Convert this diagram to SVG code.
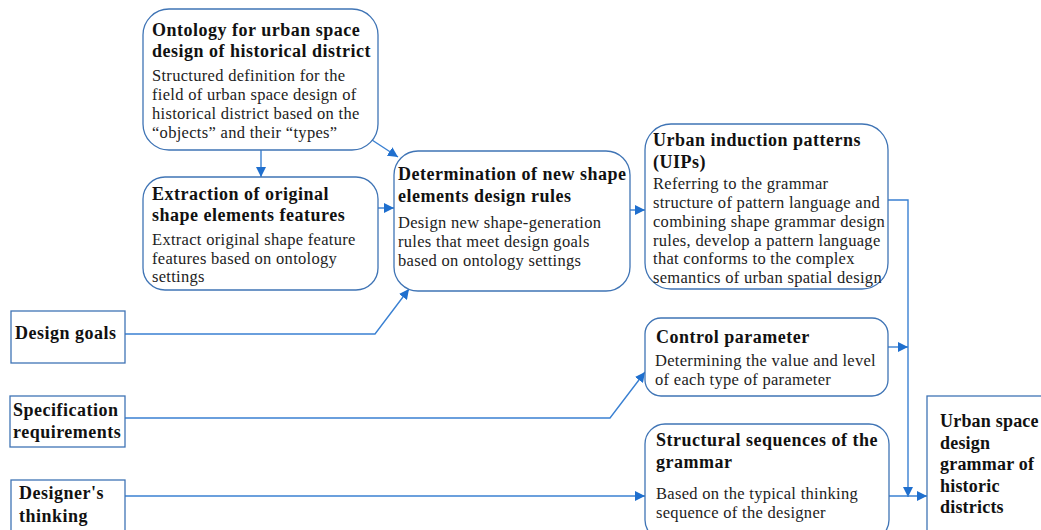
<svg xmlns="http://www.w3.org/2000/svg" width="1041" height="530" viewBox="0 0 1041 530">
  <defs>
    <marker id="arrow" viewBox="0 0 10 10" refX="10" refY="5" markerWidth="10" markerHeight="10" markerUnits="userSpaceOnUse" orient="auto">
      <path d="M0,0 L10,5 L0,10 z" fill="#1f6fce"/>
    </marker>
    <style>
      .box { fill: #ffffff; stroke: #3f74b5; stroke-width: 1.3; }
      .sq { fill: #ffffff; stroke: #3f74b5; stroke-width: 1.3; }
      .title { font-family: "Liberation Serif", "DejaVu Serif", serif; font-weight: bold; font-size: 18px; letter-spacing: 0.5px; fill: #111; }
      .side { letter-spacing: 0.5px; }
      .end { letter-spacing: 0.2px; }
      .body { font-family: "Liberation Serif", "DejaVu Serif", serif; font-size: 16.5px; letter-spacing: 0.3px; fill: #222; }
      .link { fill: none; stroke: #3a80d2; stroke-width: 1.4; }
    </style>
  </defs>
  <rect width="1041" height="530" fill="#ffffff"/>

  <g id="connectors">
    <path class="link" d="M261,150 L261,177" marker-end="url(#arrow)"/>
    <path class="link" d="M372,140 L398,157" marker-end="url(#arrow)"/>
    <path class="link" d="M378,208 L394,208" marker-end="url(#arrow)"/>
    <path class="link" d="M630,210 L645,210" marker-end="url(#arrow)"/>
    <path class="link" d="M125,334 L375,334 L409,289" marker-end="url(#arrow)"/>
    <path class="link" d="M125,418 L610,418 L645,372" marker-end="url(#arrow)"/>
    <path class="link" d="M125,496 L645,496" marker-end="url(#arrow)"/>
    <path class="link" d="M888,200 L908,200 L908,497" marker-end="url(#arrow)"/>
    <path class="link" d="M888,347 L908,347" marker-end="url(#arrow)"/>
    <path class="link" d="M889,496 L927,496" marker-end="url(#arrow)"/>
  </g>

  <g id="ontology">
    <rect class="box" x="143" y="9" width="235" height="141" rx="26"/>
    <text class="title" x="152" y="36">Ontology for urban space</text>
    <text class="title" x="152" y="57">design of historical district</text>
    <text class="body" x="152" y="81">Structured definition for the</text>
    <text class="body" x="152" y="100">field of urban space design of</text>
    <text class="body" x="152" y="119">historical district based on the</text>
    <text class="body" x="152" y="138">“objects” and their “types”</text>
  </g>

  <g id="extraction">
    <rect class="box" x="143" y="177" width="235" height="113" rx="22"/>
    <text class="title" x="152" y="200">Extraction of original</text>
    <text class="title" x="152" y="221">shape elements features</text>
    <text class="body" x="152" y="245">Extract original shape feature</text>
    <text class="body" x="152" y="264">features based on ontology</text>
    <text class="body" x="152" y="282">settings</text>
  </g>

  <g id="determination">
    <rect class="box" x="394" y="151" width="236" height="140" rx="24"/>
    <text class="title" x="398" y="180">Determination of new shape</text>
    <text class="title" x="398" y="202">elements design rules</text>
    <text class="body" x="398" y="228">Design new shape-generation</text>
    <text class="body" x="398" y="247">rules that meet design goals</text>
    <text class="body" x="398" y="266">based on ontology settings</text>
  </g>

  <g id="uips">
    <rect class="box" x="645" y="124" width="243" height="165" rx="26"/>
    <text class="title" x="653" y="146">Urban induction patterns</text>
    <text class="title" x="653" y="168">(UIPs)</text>
    <text class="body" x="653" y="189">Referring to the grammar</text>
    <text class="body" x="653" y="208">structure of pattern language and</text>
    <text class="body" x="653" y="227">combining shape grammar design</text>
    <text class="body" x="653" y="246">rules, develop a pattern language</text>
    <text class="body" x="653" y="264">that conforms to the complex</text>
    <text class="body" x="653" y="283">semantics of urban spatial design</text>
  </g>

  <g id="control-parameter">
    <rect class="box" x="645" y="318" width="243" height="78" rx="16"/>
    <text class="title" x="656" y="343">Control parameter</text>
    <text class="body" x="655" y="366">Determining the value and level</text>
    <text class="body" x="655" y="385">of each type of parameter</text>
  </g>

  <g id="structural-sequences">
    <rect class="box" x="645" y="424" width="244" height="116" rx="20"/>
    <text class="title" x="656" y="446">Structural sequences of the</text>
    <text class="title" x="656" y="468">grammar</text>
    <text class="body" x="656" y="499">Based on the typical thinking</text>
    <text class="body" x="656" y="518">sequence of the designer</text>
  </g>

  <g id="design-grammar">
    <rect class="sq" x="927" y="396" width="120" height="150"/>
    <text class="title end" x="940" y="427">Urban space</text>
    <text class="title end" x="940" y="449">design</text>
    <text class="title end" x="940" y="470">grammar of</text>
    <text class="title end" x="940" y="492">historic</text>
    <text class="title end" x="940" y="513">districts</text>
  </g>

  <g id="design-goals">
    <rect class="sq" x="11" y="311" width="114" height="52"/>
    <text class="title side" x="15" y="339">Design goals</text>
  </g>

  <g id="specification-requirements">
    <rect class="sq" x="10" y="396" width="115" height="51"/>
    <text class="title side" x="13" y="416">Specification</text>
    <text class="title side" x="13" y="438">requirements</text>
  </g>

  <g id="designers-thinking">
    <rect class="sq" x="11" y="480" width="114" height="60"/>
    <text class="title side" x="19" y="499">Designer's</text>
    <text class="title side" x="19" y="522">thinking</text>
  </g>
</svg>
